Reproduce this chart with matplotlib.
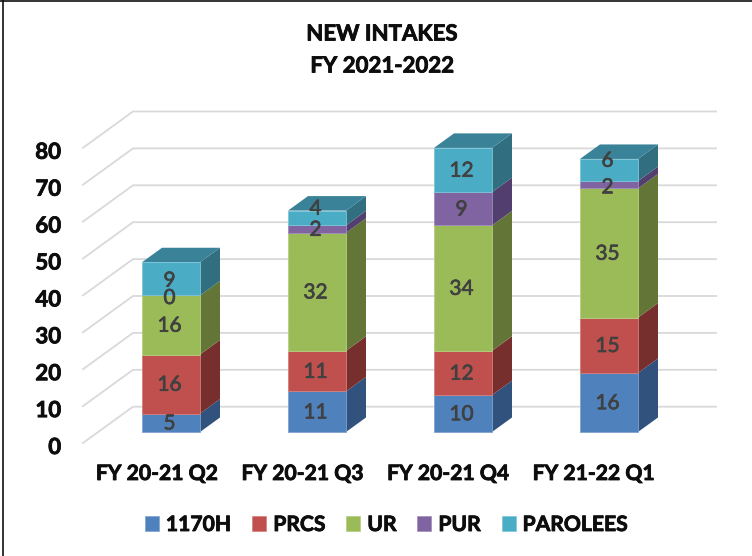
import matplotlib
matplotlib.use('Agg')
import matplotlib.pyplot as plt
import matplotlib.patheffects as pe
from matplotlib.patches import Patch
import numpy as np

plt.rcParams['font.family'] = ['Lato', 'DejaVu Sans']

categories = ['FY 20-21 Q2', 'FY 20-21 Q3', 'FY 20-21 Q4', 'FY 21-22 Q1']
series = ['1170H', 'PRCS', 'UR', 'PUR', 'PAROLEES']
v_1170h = [5, 11, 10, 16]
v_prcs = [16, 11, 12, 15]
v_ur = [16, 32, 34, 35]
v_pur = [0, 2, 9, 2]
v_parolees = [9, 4, 12, 6]
values = np.array([v_1170h, v_prcs, v_ur, v_pur, v_parolees])
yticks = [0, 10, 20, 30, 40, 50, 60, 70, 80]

front = ['#4F81BD', '#C0504D', '#9BBB59', '#8064A2', '#4BACC6']
edges = ['#7FA3D1', '#D27F7C', '#B5CF80', '#A08CBC', '#7CC6D8']
side = ['#30527D', '#772F2D', '#637537', '#523F6F', '#316F80']
top_col = '#3A8298'
ink = '#0D0D0D'
heavy = [pe.withStroke(linewidth=0.6, foreground=ink)]

# pixel scale of the original, bars start at x=0 / y=0
px_x = 146.0
px_y = 3.69
x0_px, y0_px = 171.0, 432.0
bar_w = 58 / px_x
bar_dx = 20 / px_x
bar_dy = 14.5 / px_y

fig = plt.figure(figsize=(7.52, 5.56), dpi=100)
ax = fig.add_axes([0, 0, 1, 1])
ax.set_xlim(-x0_px / px_x, (752 - x0_px) / px_x)
ax.set_ylim((y0_px - 556) / px_y, y0_px / px_y)
ax.axis('off')

# back wall grid and the slanted floor lines
front_x, back_x, end_x = (83 - x0_px) / px_x, (133 - x0_px) / px_x, (716 - x0_px) / px_x
front_y, back_y = -11 / px_y, 25.3 / px_y
for t in yticks:
    ax.plot([front_x, back_x, end_x], [t + front_y, t + back_y, t + back_y],
            color='#D9D9D9', lw=1.3, zorder=1, solid_joinstyle='miter')
    ax.text(front_x - 22 / px_x, t + front_y - 4.5 / px_y, str(t), ha='right', va='center',
            fontsize=16, fontweight='bold', color=ink, path_effects=heavy)

x = np.arange(len(categories))
bottom = np.zeros(len(categories))
# hand moved labels in the original
nudge = {(4, 1): 2.7, (4, 3): 2.7, (3, 3): -0.5, (4, 0): -0.3, (3, 0): -0.5}
for i in range(len(series)):
    vals = values[i]
    ax.bar(x, vals, bar_w, bottom=bottom, color=front[i], edgecolor=edges[i], lw=0.6, zorder=3)
    for j in x:
        b, t = bottom[j], bottom[j] + vals[j]
        xr = j + bar_w / 2
        ax.fill([xr, xr + bar_dx, xr + bar_dx, xr], [b, b + bar_dy, t + bar_dy, t],
                color=side[i], lw=0, zorder=2.5)
        ax.text(j - 0.01, (b + t) / 2 + nudge.get((i, j), 0) - 0.7 / px_y, str(vals[j]), ha='center', va='center',
                fontsize=15, color='#404040', zorder=5,
                path_effects=[pe.withStroke(linewidth=0.5, foreground='#404040')])
    bottom = bottom + vals

for j in x:
    xl, xr = j - bar_w / 2, j + bar_w / 2
    t = bottom[j]
    ax.fill([xl, xr, xr + bar_dx, xl + bar_dx], [t, t, t + bar_dy, t + bar_dy],
            color=top_col, lw=0, zorder=2.6)

for j, c in enumerate(categories):
    fig.text((157 + j * 145.6) / 752, 1 - 474 / 556, c, ha='center', va='center',
             fontsize=15.2, fontweight='bold', color=ink, path_effects=heavy)

fig.text(382 / 752, 1 - 34 / 556, 'NEW INTAKES', ha='center', va='center',
         fontsize=16, fontweight='bold', color=ink, path_effects=heavy)
fig.text(382 / 752, 1 - 66 / 556, 'FY 2021-2022', ha='center', va='center',
         fontsize=16, fontweight='bold', color=ink, path_effects=heavy)

handles = [Patch(facecolor=front[i], edgecolor=edges[i], lw=0.5) for i in range(len(series))]
leg = fig.legend(handles, series, loc='center', bbox_to_anchor=(386.5 / 752, 1 - 525 / 556), ncol=5,
                 frameon=False, handlelength=0.66, handleheight=0.66, handletextpad=0.33,
                 columnspacing=0.99, prop={'size': 15.2, 'weight': 'bold'})
for txt in leg.get_texts():
    txt.set_color(ink)
    txt.set_path_effects(heavy)

# frame of the pasted picture
fig.add_artist(plt.Line2D([3 / 752, 3 / 752], [0, 1], color='#111111', lw=1.2))
fig.add_artist(plt.Line2D([0, 1], [1 - 1 / 556, 1 - 1 / 556], color='#111111', lw=1.2))

fig.savefig('out.png', dpi=100)
